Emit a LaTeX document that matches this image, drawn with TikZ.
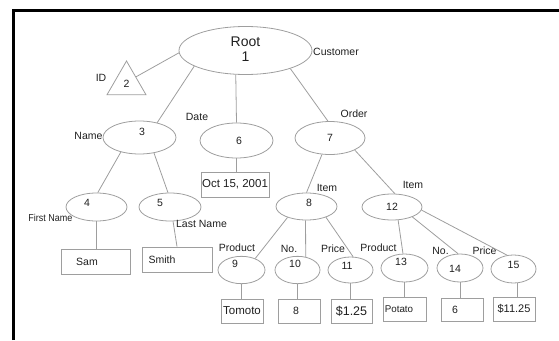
\documentclass[tikz,border=0pt]{standalone}
\usepackage{fontspec}
\setmainfont{Liberation Sans}
\usepackage{graphicx}
\usetikzlibrary{shapes.geometric}
\definecolor{linegray}{gray}{0.62}
\definecolor{txtc}{gray}{0.12}
\newcommand\off[3]{\raisebox{#2}{\makebox[0pt]{\hspace*{#1}#3}}}
\begin{document}
\begin{tikzpicture}[x=1pt,y=-1pt,
  ell/.style 2 args={draw=linegray, line width=0.8pt, ellipse, inner sep=0pt,
    minimum width=#1pt, minimum height=#2pt, text=txtc,
    font=\fontsize{10.5}{12}\selectfont},
  valbox/.style 2 args={draw=linegray, line width=0.8pt, rectangle, inner sep=0pt,
    minimum width=#1pt, minimum height=#2pt, text=txtc,
    font=\fontsize{10.5}{12}\selectfont},
  lab/.style={inner sep=0pt, text=txtc, font=\fontsize{10.5}{12}\selectfont},
  conn/.style={draw=linegray, line width=0.8pt}]
\useasboundingbox (0,0) rectangle (559,340);
% frame
\draw[line width=3pt, black] (13.5,340) -- (13.5,10.7) -- (559,10.7);

% tree nodes
\node[ell={133}{48}, font=\fontsize{14}{15}\selectfont] (root) at (245.5,50.5)
  {\raisebox{6pt}{\begin{tabular}{@{}c@{}}Root\\1\end{tabular}}};
\node[draw=linegray, line width=0.8pt, regular polygon, regular polygon sides=3,
  minimum size=45pt, inner sep=0pt, text=txtc, font=\fontsize{10.5}{12}\selectfont]
  (tri) at (126.5,83.5) {2};
\node[ell={73}{33}] (n3) at (139.5,137.5) {\off{5pt}{11pt}{3}};
\node[ell={61}{28}] (n4) at (96.5,207) {\off{-19pt}{8pt}{4}};
\node[ell={62}{28}] (n5) at (170,207) {\off{-20pt}{8pt}{5}};
\node[ell={73}{35}] (n6) at (236.5,140.5) {\off{5pt}{-5pt}{6}};
\node[ell={70}{33}] (n7) at (330,138) {\off{0pt}{-7pt}{7}};
\node[ell={61}{27}] (n8) at (306.5,206.5) {\off{5pt}{7pt}{8}};
\node[ell={47}{26}] (n9) at (241.5,270) {\off{-13pt}{12pt}{9}};
\node[ell={45}{26}] (n10) at (297.5,270) {\off{-5pt}{12pt}{10}};
\node[ell={45}{26}] (n11) at (350.5,270) {\off{-7pt}{8pt}{11}};
\node[ell={60}{26}] (n12) at (392,207) {\off{0pt}{-6pt}{12}};
\node[ell={47}{28}] (n13) at (404.5,268) {\off{-7pt}{12pt}{13}};
\node[ell={46}{28}] (n14) at (460,268) {\off{-10pt}{-8pt}{14}};
\node[ell={45}{28}] (n15) at (513.5,269) {\off{0pt}{8pt}{15}};

% value boxes
\node[valbox={69}{25}] (sam) at (95.5,261.5) {\off{-17pt}{-5pt}{Sam}};
\node[valbox={70}{25}] (smith) at (177,259.5) {\off{-30pt}{-9pt}{Smith}};
\node[valbox={68}{25}, font=\fontsize{11.5}{13}\selectfont] (date) at (235,184.5) {Oct 15, 2001};
\node[valbox={42}{24}, font=\fontsize{11.5}{13}\selectfont] (tomoto) at (242,311) {Tomoto};
\node[valbox={42}{24}] (b8) at (299,311) {\off{-6pt}{-4pt}{8}};
\node[valbox={41}{24}, font=\fontsize{12.5}{14}\selectfont] (b125) at (351.5,311) {\$1.25};
\node[valbox={43}{24}, font=\fontsize{9.8}{11}\selectfont] (potato) at (404.5,309) {\off{-11pt}{0pt}{Potato}};
\node[valbox={42}{23}] (b6) at (462,309.5) {\off{-14pt}{-9pt}{6}};
\node[valbox={42}{24}, font=\fontsize{11}{13}\selectfont] (b1125) at (514,309) {\off{0pt}{-8pt}{\$11.25}};

% edge labels
\node[lab] (lcust) at (336,52) {Customer};
\node[lab] (lid) at (101,78) {ID};
\node[lab] (ldate) at (197,117) {Date};
\node[lab] (lname) at (88.5,136) {Name};
\node[lab] (lorder) at (354,114) {Order};
\node[lab, font=\fontsize{10}{12}\selectfont] (lfirst) at (50.5,218) {\scalebox{0.9}[1]{First Name}};
\node[lab] (llast) at (201.5,224) {Last Name};
\node[lab] (litem8) at (327,188) {Item};
\node[lab] (litem12) at (413,185) {Item};
\node[lab] (lprod9) at (237,248) {Product};
\node[lab] (lno10) at (289,249) {No.};
\node[lab] (lprice11) at (333,249) {Price};
\node[lab] (lprod13) at (378.5,248) {Product};
\node[lab] (lno14) at (440.5,251) {No.};
\node[lab] (lprice15) at (484.5,251) {Price};

% connectors
\draw[conn] (root.182) -- (tri.35);
\draw[conn] (root.197) -- (n3.40);
\draw[conn] (root.248) -- (n6.north);
\draw[conn] (root.338) -- (n7.97);
\draw[conn] (n3.218) -- (n4.85);
\draw[conn] (n3.313) -- (n5.98);
\draw[conn] (n4.south) -- (n4.south |- sam.north);
\draw[conn] (n5.282) -- (smith.north);
\draw[conn] (n6.south) -- (n6.south |- date.north);
\draw[conn] (n7.244) -- (n8.north);
\draw[conn] (n7.334) -- (n12.78);
\draw[conn] (n8.210) -- (n9.40);
\draw[conn] (n8.266) -- (n10.58);
\draw[conn] (n8.331) -- (n11.79);
\draw[conn] (n9.south) -- (n9.south |- tomoto.north);
\draw[conn] (n10.south) -- (n10.south |- b8.north);
\draw[conn] (n11.south) -- (n11.south |- b125.north);
\draw[conn] (n12.295) -- (n13.96);
\draw[conn] (n12.334) -- (n14.98);
\draw[conn] (n12.354) -- (n15.115);
\draw[conn] (n13.south) -- (n13.south |- potato.north);
\draw[conn] (n14.south) -- (n14.south |- b6.north);
\draw[conn] (n15.284) -- (n15.284 |- b1125.north);
\end{tikzpicture}
\end{document}
